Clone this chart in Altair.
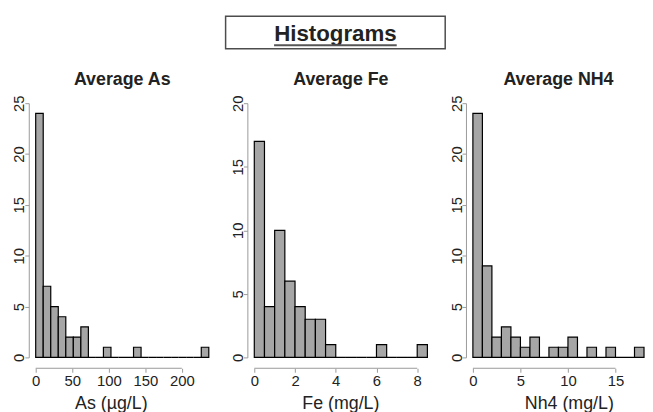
import altair as alt
import pandas as pd

# ---------------- values ----------------
main_title = "Histograms"
panel_titles = ["Average As", "Average Fe", "Average NH4"]
axis_titles = ["As (µg/L)", "Fe (mg/L)", "Nh4 (mg/L)"]

as_bin_width = 10.3
as_counts = [24, 7, 5, 4, 2, 2, 3, 0, 0, 1, 0, 0, 0, 1, 0, 0, 0, 0, 0, 0, 0, 0, 1]
as_xticks = [0, 50, 100, 150, 200]
as_yticks = [0, 5, 10, 15, 20, 25]

fe_bin_width = 0.5
fe_counts = [17, 4, 10, 6, 4, 3, 3, 1, 0, 0, 0, 0, 1, 0, 0, 0, 1]
fe_xticks = [0, 2, 4, 6, 8]
fe_yticks = [0, 5, 10, 15, 20]

nh4_bin_width = 1.0
nh4_counts = [24, 9, 2, 3, 2, 1, 2, 0, 1, 1, 2, 0, 1, 0, 1, 0, 0, 1]
nh4_xticks = [0, 5, 10, 15]
nh4_yticks = [0, 5, 10, 15, 20, 25]

# ---------------- styling ----------------
FONT = "Liberation Sans"
BAR_FILL = "#a6a6a6"
AXIS_GREY = "#9a9a9a"
TEXT = "#222222"
PH = 257
X_OFFSET = 11
SPACING = 46


def panel(title, xtitle, bin_width, counts, xticks, yticks, title_x, pw):
    starts = [i * bin_width for i in range(len(counts))]
    df = pd.DataFrame({
        "start": starts,
        "end": [s + bin_width for s in starts],
        "count": counts,
        "base": [0] * len(counts),
    })
    xs = alt.Scale(domain=[0, len(counts) * bin_width], nice=False, zero=False)
    ys = alt.Scale(domain=[0, yticks[-1]], nice=False)
    bars = alt.Chart(df).mark_rect(fill=BAR_FILL, stroke="black", strokeWidth=1.2).encode(
        x=alt.X("start:Q", scale=xs, axis=alt.Axis(
            values=xticks, domain=False, offset=X_OFFSET, tickSize=4, tickColor=AXIS_GREY,
            labelPadding=1, labelFontSize=15, labelFont=FONT, labelColor=TEXT, grid=False,
            title=xtitle, titleFont=FONT, titleFontSize=18, titleFontWeight="normal",
            titleColor=TEXT, titleX=title_x, titleY=41, titleBaseline="alphabetic",
            titleAlign="center", labelFlush=False)),
        x2="end:Q",
        y=alt.Y("count:Q", scale=ys, axis=alt.Axis(
            values=yticks, offset=7, tickSize=4, tickColor=AXIS_GREY, domainColor=AXIS_GREY,
            labelAngle=270, labelAlign="center", labelBaseline="alphabetic", labelPadding=1,
            labelFontSize=15, labelFont=FONT, labelColor=TEXT, grid=False, title=None,
            labelFlush=False)),
        y2="base:Q",
    )
    line_df = pd.DataFrame({"start": [xticks[0]], "end": [xticks[-1]]})
    xline = alt.Chart(line_df).mark_rule(color=AXIS_GREY, strokeWidth=1).encode(
        x=alt.X("start:Q", scale=xs),
        x2="end:Q",
        y=alt.value(PH + X_OFFSET),
    )
    return alt.layer(bars, xline).properties(
        width=pw, height=PH,
        title=alt.TitleParams(title, font=FONT, fontSize=18, fontWeight="bold", color=TEXT,
                              anchor="middle", frame="group", baseline="alphabetic",
                              offset=11, dy=19),
    )


widths = [175, 175, 173]
p1 = panel(panel_titles[0], axis_titles[0], as_bin_width, as_counts, as_xticks, as_yticks, 76, widths[0])
p2 = panel(panel_titles[1], axis_titles[1], fe_bin_width, fe_counts, fe_xticks, fe_yticks, 87, widths[1])
p3 = panel(panel_titles[2], axis_titles[2], nh4_bin_width, nh4_counts, nh4_xticks, nh4_yticks, 97, widths[2])

ROW_W = sum(widths) + 2 * SPACING
HH = 33
hdf = pd.DataFrame({"t": [main_title]})
box = alt.Chart(hdf).mark_rect(fill="white", stroke="#4d4d4d", strokeWidth=1.5).encode(
    x=alt.value(192), x2=alt.value(414), y=alt.value(0), y2=alt.value(HH)
)
header_text = alt.Chart(hdf).mark_text(
    font=FONT, fontSize=22.5, fontWeight="bold", color=TEXT, align="center", baseline="alphabetic"
).encode(text="t:N", x=alt.value(303), y=alt.value(25))
underline = alt.Chart(hdf).mark_rule(color="#555555", strokeWidth=2).encode(
    x=alt.value(241), x2=alt.value(365), y=alt.value(29.5)
)
header = alt.layer(box, header_text, underline).properties(width=ROW_W, height=HH)

row = alt.hconcat(p1, p2, p3, spacing=SPACING, bounds="flush")
chart = alt.vconcat(header, row, spacing=55, bounds="flush").properties(
    padding={"left": 4, "top": 5, "right": 0, "bottom": 0}
).configure_view(strokeWidth=0)

chart.save("out.html", embed_options={"renderer": "svg", "actions": False})
